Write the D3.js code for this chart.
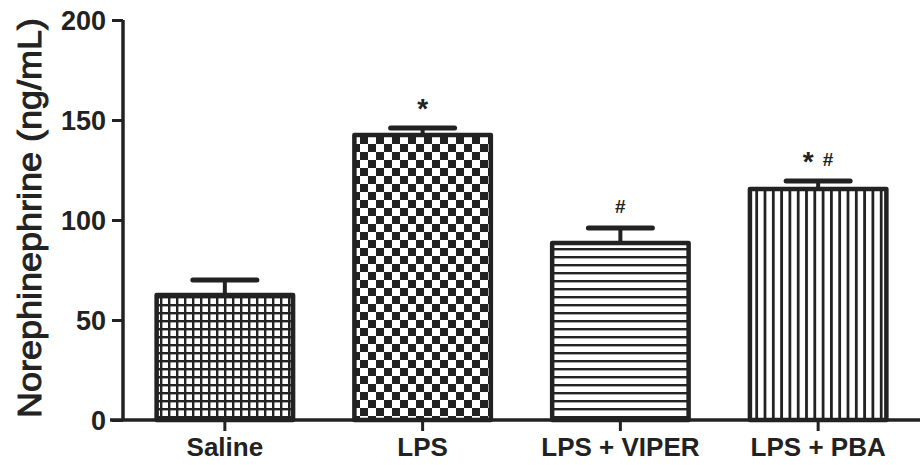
<!DOCTYPE html>
<html><head><meta charset="utf-8">
<script src="https://cdn.jsdelivr.net/npm/d3@7"></script>
<style>body{margin:0;background:#fff}svg{display:block}text{font-family:"Liberation Sans",Arial,sans-serif;fill:#222}</style>
</head><body><svg id="c" width="922" height="465"></svg>
<script>
const categories = ["Saline", "LPS", "LPS + VIPER", "LPS + PBA"];
const means = [62.5, 142.5, 88.5, 115.5];
const errors = [7.5, 3.5, 7.5, 4];
const patterns = ["grid", "checker", "hlines", "vlines"];
const annotations = [[], ["*"], ["#"], ["*", "#"]];
const yTicks = [0, 50, 100, 150, 200];
const yLabel = "Norephinephrine (ng/mL)";

const svg = d3.select("#c");
const ink = "#222";
const x = d3.scaleBand().domain(categories).range([123, 920]).paddingInner(0.31).paddingOuter(0.17);
const y = d3.scaleLinear().domain([0, 200]).range([420, 20]);

const defs = svg.append("defs");
let p = defs.append("pattern").attr("id", "grid").attr("patternUnits", "userSpaceOnUse").attr("width", 8).attr("height", 8);
p.append("rect").attr("width", 8).attr("height", 8).attr("fill", "#fff");
p.append("rect").attr("width", 8).attr("height", 2.4).attr("fill", ink);
p.append("rect").attr("width", 2.4).attr("height", 8).attr("fill", ink);
p = defs.append("pattern").attr("id", "checker").attr("patternUnits", "userSpaceOnUse").attr("width", 16).attr("height", 16);
p.append("rect").attr("width", 16).attr("height", 16).attr("fill", "#fff");
p.append("rect").attr("width", 8).attr("height", 8).attr("fill", ink);
p.append("rect").attr("x", 8).attr("y", 8).attr("width", 8).attr("height", 8).attr("fill", ink);
p = defs.append("pattern").attr("id", "hlines").attr("patternUnits", "userSpaceOnUse").attr("width", 8).attr("height", 8);
p.append("rect").attr("width", 8).attr("height", 8).attr("fill", "#fff");
p.append("rect").attr("width", 8).attr("height", 2.4).attr("fill", ink);
p = defs.append("pattern").attr("id", "vlines").attr("patternUnits", "userSpaceOnUse").attr("width", 8.3).attr("height", 8);
p.append("rect").attr("width", 8.3).attr("height", 8).attr("fill", "#fff");
p.append("rect").attr("width", 2.8).attr("height", 8).attr("fill", ink);

const bw = x.bandwidth();
categories.forEach((c, i) => {
  const x0 = x(c), cx = x0 + bw / 2;
  svg.append("line").attr("x1", cx).attr("x2", cx).attr("y1", y(means[i])).attr("y2", y(means[i] + errors[i]))
    .attr("stroke", ink).attr("stroke-width", 4);
  svg.append("line").attr("x1", cx - 32).attr("x2", cx + 32).attr("y1", y(means[i] + errors[i])).attr("y2", y(means[i] + errors[i]))
    .attr("stroke", ink).attr("stroke-width", 5).attr("stroke-linecap", "round");
  svg.append("rect").attr("x", x0).attr("y", y(means[i])).attr("width", bw).attr("height", y(0) - y(means[i]))
    .attr("fill", `url(#${patterns[i]})`).attr("stroke", ink).attr("stroke-width", 4.5).attr("stroke-linejoin", "round");
  const ann = annotations[i];
  ann.forEach((a, j) => {
    const off = (j - (ann.length - 1) / 2) * 20;
    svg.append("text").attr("x", cx + off).attr("y", y(means[i] + errors[i]) - (a === "*" ? 10 : 15))
      .attr("text-anchor", "middle").attr("font-size", a === "*" ? 28 : 19).attr("font-weight", "bold").text(a);
  });
});

const yAxis = svg.append("g").attr("transform", "translate(123,0)")
  .call(d3.axisLeft(y).tickValues(yTicks).tickSize(11).tickPadding(6));
yAxis.select(".domain").attr("stroke", ink).attr("stroke-width", 3.5).attr("d", `M0,${y(200)}V${y(0)}`);
yAxis.selectAll(".tick line").attr("stroke", ink).attr("stroke-width", 3);
yAxis.selectAll(".tick text").attr("font-size", 27).attr("font-weight", "bold").attr("fill", ink)
  .style("font-family", '"Liberation Sans", Arial, sans-serif').attr("dy", "0.36em");

const xAxis = svg.append("g").attr("transform", "translate(0,420)")
  .call(d3.axisBottom(x).tickSize(11).tickPadding(7));
xAxis.select(".domain").attr("stroke", ink).attr("stroke-width", 3.5).attr("d", `M110,0H920`);
xAxis.selectAll(".tick line").attr("stroke", ink).attr("stroke-width", 3);
xAxis.selectAll(".tick text").attr("font-size", 26).attr("font-weight", "bold").attr("fill", ink)
  .style("font-family", '"Liberation Sans", Arial, sans-serif');

svg.append("text").attr("transform", "translate(41,218) rotate(-90)").attr("text-anchor", "middle")
  .attr("font-size", 33).attr("stroke", ink).attr("stroke-width", 0.9)
  .attr("textLength", 400).attr("lengthAdjust", "spacingAndGlyphs")
  .text(yLabel);
</script></body></html>
